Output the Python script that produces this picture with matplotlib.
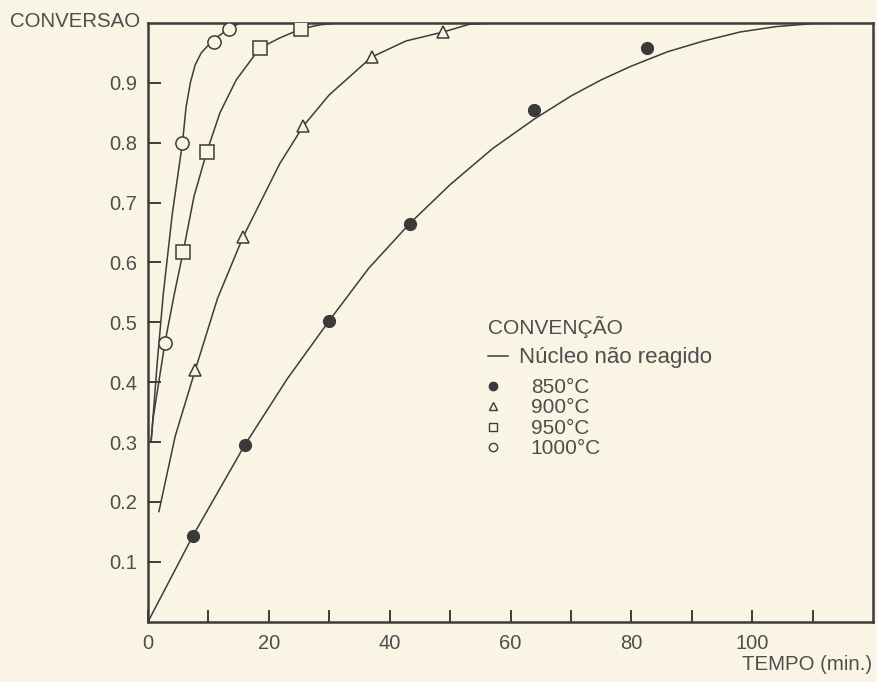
import matplotlib.pyplot as plt
from matplotlib.lines import Line2D
from matplotlib.ticker import FuncFormatter

# measured points (tempo in min, conversao)
t_850 = [7.4, 16.0, 30.0, 43.3, 63.8, 82.6]
x_850 = [0.143, 0.295, 0.503, 0.665, 0.855, 0.958]
t_900 = [7.8, 15.7, 25.7, 37.0, 48.9]
x_900 = [0.42, 0.642, 0.828, 0.943, 0.985]
t_950 = [5.8, 9.7, 18.5, 25.3]
x_950 = [0.617, 0.784, 0.958, 0.99]
t_1000 = [2.8, 5.7, 10.9, 13.4]
x_1000 = [0.466, 0.8, 0.968, 0.99]

# "nucleo nao reagido" curves
ct_850 = [0, 7.4, 16, 23, 30, 36.5, 43.3, 50, 57, 64, 70, 75, 80, 86, 92, 98, 104, 110, 116, 120]
cx_850 = [0, 0.143, 0.295, 0.405, 0.503, 0.59, 0.665, 0.73, 0.79, 0.84, 0.878, 0.905, 0.928,
          0.952, 0.97, 0.985, 0.994, 0.999, 1.0, 1.0]
ct_900 = [1.8, 4.5, 7.8, 11.5, 15.7, 21.8, 25.7, 30, 37, 42.7, 48.9, 53.2, 58]
cx_900 = [0.184, 0.31, 0.42, 0.54, 0.642, 0.765, 0.828, 0.88, 0.943, 0.97, 0.985, 0.998, 1.0]
ct_950 = [0.5, 0.8, 2.8, 4.3, 5.8, 7.6, 9.7, 11.9, 14.6, 18.5, 21.8, 25.3, 28.5, 31.7, 34]
cx_950 = [0.30, 0.337, 0.466, 0.545, 0.617, 0.71, 0.784, 0.85, 0.905, 0.958, 0.975, 0.99,
          0.997, 1.0, 1.0]
ct_1000 = [0.5, 0.66, 1.5, 2.5, 4.0, 5.7, 6.3, 7.0, 7.8, 8.8, 9.9, 10.9, 12.2, 13.4, 15.2, 17]
cx_1000 = [0.30, 0.32, 0.43, 0.545, 0.68, 0.8, 0.86, 0.9, 0.93, 0.95, 0.962, 0.972, 0.982,
           0.99, 1.0, 1.0]

bg = '#faf4e4'
ink = '#3c3c3c'
txt = '#4e4e4e'

plt.rcParams['font.family'] = ['Liberation Sans', 'DejaVu Sans']

fig = plt.figure(figsize=(8.77, 6.82), dpi=100, facecolor=bg)
ax = fig.add_axes([0.1688, 0.0884, 0.8267, 0.8779])
ax.set_facecolor(bg)

for ct, cx in [(ct_850, cx_850), (ct_900, cx_900), (ct_950, cx_950), (ct_1000, cx_1000)]:
    ax.plot(ct, cx, color=ink, lw=1.1, zorder=2)

ax.plot(t_850, x_850, 'o', ms=8.5, color='#3a3a3a', mec='#3a3a3a', zorder=3)
ax.plot(t_900, x_900, '^', ms=9, mfc=bg, mec=ink, mew=1.1, zorder=3)
ax.plot(t_950, x_950, 's', ms=10, mfc=bg, mec=ink, mew=1.1, zorder=3)
ax.plot(t_1000, x_1000, 'o', ms=9.5, mfc=bg, mec=ink, mew=1.1, zorder=3)

ax.set_xlim(0, 120)
ax.set_ylim(0, 1.0)
ax.set_xticks(range(0, 120, 10))
ax.set_yticks([0.1, 0.2, 0.3, 0.4, 0.5, 0.6, 0.7, 0.8, 0.9])
ax.xaxis.set_major_formatter(FuncFormatter(lambda v, p: '%d' % v if v % 20 == 0 else ''))
ax.tick_params(direction='in', length=9, width=1.4, color=ink, labelcolor=txt,
               labelsize=14.5)
ax.tick_params(axis='y', pad=8)
ax.tick_params(axis='x', pad=9)

for s in ax.spines.values():
    s.set_color(ink)
    s.set_linewidth(1.8)

fig.text(0.011, 0.968, 'CONVERSAO', ha='left', va='center', fontsize=14.7, color=txt)
fig.text(0.995, 0.026, 'TEMPO (min.)', ha='right', va='center', fontsize=14.7, color=txt)

# legend: title + model line
h_line = [Line2D([], [], color=ink, lw=1.1)]
leg1 = ax.legend(h_line, ['Núcleo não reagido'], title='CONVENÇÃO', loc='upper left',
                 bbox_to_anchor=(0.469, 0.51), frameon=False, fontsize=16,
                 title_fontsize=15, handlelength=0.9, handletextpad=0.5,
                 labelspacing=0.4, borderpad=0, borderaxespad=0,
                 alignment='left', labelcolor=txt)
leg1.get_title().set_color(txt)
ax.add_artist(leg1)

# legend: temperatures
h_temp = [
    Line2D([], [], ls='', marker='o', ms=6, color='#3a3a3a'),
    Line2D([], [], ls='', marker='^', ms=6, mfc=bg, mec=ink, mew=1.0),
    Line2D([], [], ls='', marker='s', ms=6, mfc=bg, mec=ink, mew=1.0),
    Line2D([], [], ls='', marker='o', ms=6, mfc=bg, mec=ink, mew=1.0),
]
temps = ['850°C', '900°C', '950°C', '1000°C']
ax.legend(h_temp, temps, loc='upper left', bbox_to_anchor=(0.469, 0.407),
          frameon=False, fontsize=15, handlelength=0.5, handletextpad=1.55,
          labelspacing=0.07, borderpad=0, borderaxespad=0, labelcolor=txt)

fig.savefig('out.png', dpi=100, facecolor=bg)
